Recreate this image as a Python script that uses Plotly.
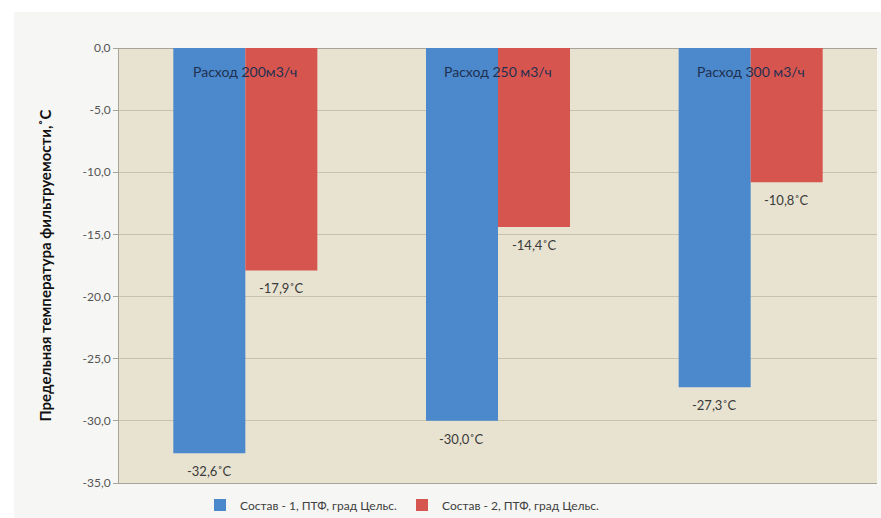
import plotly.graph_objects as go

# Flow-rate groups and filterability limit temperatures (°C)
groups = ["Расход 200м3/ч", "Расход 250 м3/ч", "Расход 300 м3/ч"]
series_names = ["Состав - 1, ПТФ, град Цельс.", "Состав - 2, ПТФ, град Цельс."]
composition_1 = [-32.6, -30.0, -27.3]
composition_2 = [-17.9, -14.4, -10.8]
y_ticks = [0, -5, -10, -15, -20, -25, -30, -35]
y_tick_labels = ["0,0", "-5,0", "-10,0", "-15,0", "-20,0", "-25,0", "-30,0", "-35,0"]
y_title = "Предельная температура фильтруемости,˚С"

W, H = 881, 518
ML, MR, MT, MB = 119, 4, 48, 35
PW, PH = W - ML - MR, H - MT - MB

FONT = "Lato, 'Open Sans', sans-serif"
BLUE = "#4B88CC"
RED = "#D6554F"
BARGAP = 0.43


def fmt(v):
    return f"{v:.1f}".replace(".", ",") + "˚С"


fig = go.Figure()
series = [(series_names[0], composition_1, BLUE), (series_names[1], composition_2, RED)]
for name, vals, col in series:
    fig.add_trace(go.Bar(
        x=list(range(len(groups))), y=vals, name=name,
        marker=dict(color=col, line=dict(width=0)),
        hoverinfo="skip",
    ))

# value labels below each bar end
bar_w = (1 - BARGAP) / len(series)
for k, (name, vals, col) in enumerate(series):
    offset = -((1 - BARGAP) / 2) + bar_w * (k + 0.5)
    for i, v in enumerate(vals):
        fig.add_annotation(
            x=i + offset, y=v, xref="x", yref="y", text=fmt(v), showarrow=False,
            yanchor="middle", yshift=-18,
            font=dict(family=FONT, size=13, color="#3a3a3a"),
        )

# group captions along the top of each bar pair
for i, g in enumerate(groups):
    fig.add_annotation(
        x=i, y=-1.9, xref="x", yref="y", text=g, showarrow=False,
        font=dict(family=FONT, size=14, color="#1F3050"),
    )

# y-axis title
fig.add_annotation(
    x=(44 - ML) / PW, y=0.5, xref="paper", yref="paper", text=y_title,
    showarrow=False, textangle=-90, xanchor="center", yanchor="middle",
    font=dict(family=FONT, size=15, color="#111111", weight="bold"),
)

# white margin strips around the light page background
fig.add_shape(type="rect", xref="paper", yref="paper", layer="below",
              x0=-ML / PW, x1=(14 - ML) / PW, y0=-MB / PH, y1=1 + MT / PH,
              fillcolor="white", line=dict(width=0))
fig.add_shape(type="rect", xref="paper", yref="paper", layer="below",
              x0=-ML / PW, x1=1 + MR / PW, y0=1 + (MT - 12) / PH, y1=1 + MT / PH,
              fillcolor="white", line=dict(width=0))

fig.update_layout(
    width=W, height=H,
    margin=dict(l=ML, r=MR, t=MT, b=MB, pad=0, autoexpand=False),
    paper_bgcolor="#F6F6F4",
    plot_bgcolor="#E8E3D1",
    barmode="group",
    bargap=BARGAP,
    bargroupgap=0,
    font=dict(family=FONT, color="#404040"),
    showlegend=True,
    legend=dict(
        orientation="h", x=(402 - ML) / PW, xanchor="center",
        y=-(505 - (MT + PH)) / PH, yanchor="middle",
        font=dict(family=FONT, size=12, color="#404040"),
        bgcolor="rgba(0,0,0,0)", itemwidth=30, tracegroupgap=0,
    ),
    xaxis=dict(
        range=[-0.5, len(groups) - 0.5],
        showticklabels=False, ticks="", showgrid=False,
        showline=True, linecolor="#A8A49A", linewidth=1,
        zeroline=False, fixedrange=True,
    ),
    yaxis=dict(
        range=[-35, 0], tickvals=y_ticks, ticktext=y_tick_labels,
        ticks="outside", ticklen=5, tickcolor="#A8A49A",
        tickfont=dict(family=FONT, size=12, color="#555555"),
        showgrid=True, gridcolor="#C8C2AD", gridwidth=1,
        showline=True, linecolor="#A8A49A", linewidth=1, mirror=False,
        zeroline=True, zerolinecolor="#A8A49A", zerolinewidth=1,
    ),
)

fig.write_html("out.html")
